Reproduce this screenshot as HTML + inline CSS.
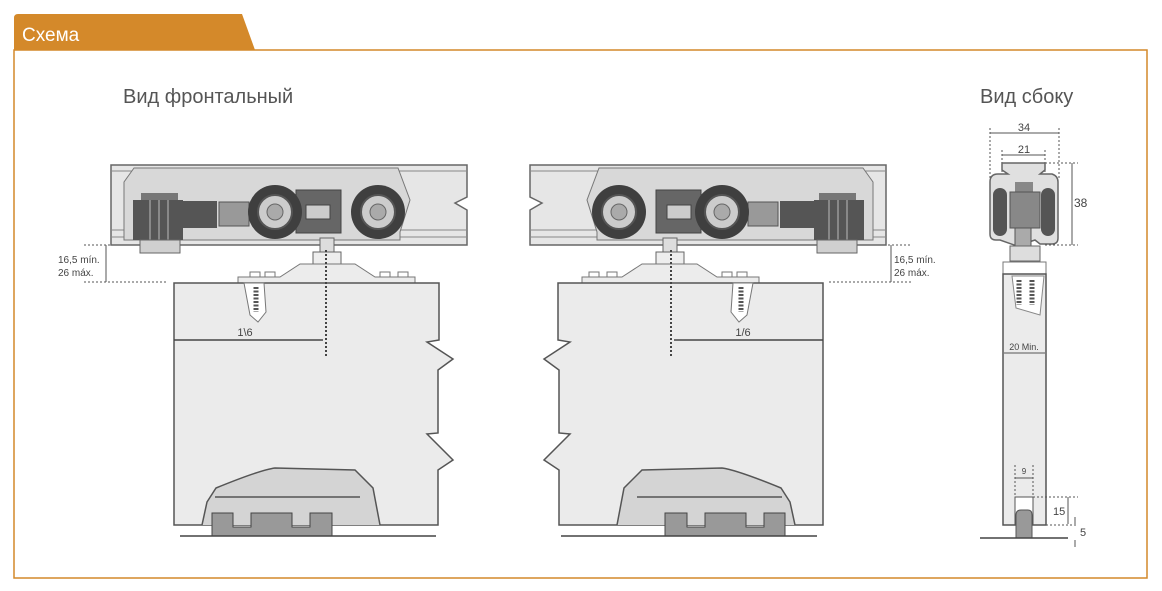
<!DOCTYPE html>
<html><head><meta charset="utf-8"><style>
html,body{margin:0;padding:0;background:#fff;width:1162px;height:591px;overflow:hidden}
svg{display:block}
text{font-family:"Liberation Sans",sans-serif}
</style></head><body>
<svg width="1162" height="591" viewBox="0 0 1162 591" xmlns="http://www.w3.org/2000/svg">
<defs>
<g id="front">
  <!-- rail -->
  <path d="M111,165 H467 V197 L455,203 L467,210 V245 H111 Z" fill="#e6e6e6" stroke="#666" stroke-width="1.5"/>
  <line x1="111" y1="171" x2="467" y2="171" stroke="#888"/>
  <line x1="111" y1="230" x2="467" y2="230" stroke="#888"/>
  <line x1="111" y1="237" x2="467" y2="237" stroke="#888"/>
  <path d="M134,168 L124,182 V240 L400,240 V232 L410,200 L398,168 Z" fill="#d8d8d8" stroke="#777"/>
  <rect x="141" y="193" width="37" height="10" fill="#777"/>
  <rect x="133" y="200" width="50" height="40" fill="#555"/>
  <line x1="150" y1="200" x2="150" y2="240" stroke="#888" stroke-width="2"/>
  <line x1="159" y1="200" x2="159" y2="240" stroke="#888" stroke-width="2"/>
  <line x1="168" y1="200" x2="168" y2="240" stroke="#888" stroke-width="2"/>
  <rect x="183" y="201" width="34" height="27" fill="#555"/>
  <rect x="219" y="202" width="30" height="24" fill="#999" stroke="#555"/>
  <rect x="296" y="190" width="45" height="43" fill="#666" stroke="#444"/>
  <rect x="306" y="205" width="24" height="14" fill="#ccc" stroke="#444"/>
  <circle cx="275" cy="212" r="27" fill="#3f3f3f"/>
  <circle cx="275" cy="212" r="17" fill="#ccc" stroke="#555" stroke-width="2"/>
  <circle cx="275" cy="212" r="8" fill="#aaa" stroke="#666"/>
  <circle cx="378" cy="212" r="27" fill="#3f3f3f"/>
  <circle cx="378" cy="212" r="17" fill="#ccc" stroke="#555" stroke-width="2"/>
  <circle cx="378" cy="212" r="8" fill="#aaa" stroke="#666"/>
  <rect x="140" y="240" width="40" height="13" fill="#d0d0d0" stroke="#666"/>
  <!-- stem and nuts -->
  <rect x="320" y="238" width="14" height="14" fill="#ddd" stroke="#666"/>
  <rect x="313" y="252" width="28" height="15" fill="#eee" stroke="#666"/>
  <rect x="313" y="268" width="28" height="14" fill="#eee" stroke="#666"/>
  <path d="M238,277 H280 L300,264 H355 L375,277 H415 V283 H238 Z" fill="#ececec" stroke="#777"/>
  <path d="M250,277 v-5 h10 v5 M265,277 v-5 h10 v5 M380,277 v-5 h10 v5 M398,277 v-5 h10 v5" fill="none" stroke="#777"/>
  <!-- door -->
  <path d="M174,283 H439 V340 L427,342 L453,359 L438,370 V433 L427,434 L453,460 L438,470 V525 H174 Z" fill="#ebebeb" stroke="#555" stroke-width="1.5"/>
  <path d="M244,283 L250,315 L258,322 L266,312 L264,283 Z" fill="#fff" stroke="#777"/>
  <line x1="256" y1="287" x2="256" y2="312" stroke="#555" stroke-width="5" stroke-dasharray="2,1.5"/>
  <line x1="174" y1="340" x2="323" y2="340" stroke="#444" stroke-width="1.5"/>
  <line x1="326" y1="250" x2="326" y2="356" stroke="#444" stroke-width="2" stroke-dasharray="2,2"/>
  <!-- floor guide -->
  <path d="M202,525 L207,502 L216,488 Q260,470 275,468 L355,470 L373,488 L380,525" fill="#d4d4d4" stroke="#555" stroke-width="1.5"/>
  <line x1="215" y1="497" x2="360" y2="497" stroke="#555" stroke-width="1.5"/>
  <path d="M212,536 V513 H233 V527 H251 V513 H292 V527 H310 V513 H332 V536 Z" fill="#999" stroke="#444"/>
  <line x1="180" y1="536" x2="436" y2="536" stroke="#444" stroke-width="1.5"/>
</g>
</defs>
<!-- frame -->
<path d="M14,50 H1147 V578 H14 Z" fill="none" stroke="#d4892a" stroke-width="1.5"/>
<path d="M14,50 V18 Q14,14 18,14 H242 L255,50 Z" fill="#d4892a"/>
<text x="22" y="41" font-size="19" fill="#fff">Схема</text>
<text x="123" y="103" font-size="20" fill="#555">Вид фронтальный</text>
<text x="980" y="103" font-size="20" fill="#555">Вид сбоку</text>

<use href="#front"/>
<use href="#front" transform="translate(997,0) scale(-1,1)"/>
<text x="240" y="336" font-size="11" fill="#444" transform="translate(490,0) scale(-1,1)" text-anchor="middle" style="transform-box:fill-box"> </text>
<text x="245" y="336" font-size="11" fill="#444" text-anchor="middle">1\6</text>
<text x="743" y="336" font-size="11" fill="#444" text-anchor="middle">1/6</text>

<!-- left dims -->
<line x1="84" y1="245" x2="110" y2="245" stroke="#555" stroke-dasharray="2,2"/>
<line x1="84" y1="282" x2="168" y2="282" stroke="#555" stroke-dasharray="2,2"/>
<line x1="106" y1="245" x2="106" y2="282" stroke="#555"/>
<text x="58" y="263" font-size="10" fill="#444">16,5 mín.</text>
<text x="58" y="276" font-size="10" fill="#444">26 máx.</text>
<line x1="888" y1="245" x2="912" y2="245" stroke="#555" stroke-dasharray="2,2"/>
<line x1="829" y1="282" x2="912" y2="282" stroke="#555" stroke-dasharray="2,2"/>
<line x1="891" y1="245" x2="891" y2="282" stroke="#555"/>
<text x="894" y="263" font-size="10" fill="#444">16,5 mín.</text>
<text x="894" y="276" font-size="10" fill="#444">26 máx.</text>

<!-- side view -->
<g stroke="#555" fill="none">
  <line x1="990" y1="133" x2="1059" y2="133"/>
  <line x1="990" y1="128" x2="990" y2="180" stroke-dasharray="2,2"/>
  <line x1="1059" y1="128" x2="1059" y2="180" stroke-dasharray="2,2"/>
  <line x1="1002" y1="155" x2="1045" y2="155"/>
  <line x1="1002" y1="150" x2="1002" y2="180" stroke-dasharray="2,2"/>
  <line x1="1045" y1="150" x2="1045" y2="180" stroke-dasharray="2,2"/>
  <line x1="1045" y1="163" x2="1078" y2="163" stroke-dasharray="2,2"/>
  <line x1="1045" y1="245" x2="1078" y2="245" stroke-dasharray="2,2"/>
  <line x1="1072" y1="163" x2="1072" y2="245"/>
</g>
<text x="1024" y="131" font-size="11" fill="#444" text-anchor="middle">34</text>
<text x="1024" y="153" font-size="11" fill="#444" text-anchor="middle">21</text>
<text x="1074" y="207" font-size="12" fill="#444">38</text>
<path d="M1002,163 H1045 V170 L1040,174 H1052 Q1058,176 1058,182 V238 Q1058,244 1052,244 H1040 L1035,240 L1017,246 L1000,240 H996 Q990,240 990,234 V182 Q990,174 998,174 H1008 L1002,170 Z" fill="#e0e0e0" stroke="#666" stroke-width="1.5"/>
<rect x="993" y="188" width="14" height="48" rx="7" fill="#555"/>
<rect x="1041" y="188" width="14" height="48" rx="7" fill="#555"/>
<rect x="1015" y="182" width="18" height="10" fill="#888"/>
<rect x="1010" y="192" width="30" height="36" fill="#888" stroke="#555"/>
<rect x="1015" y="228" width="16" height="18" fill="#aaa" stroke="#555"/>
<rect x="1010" y="246" width="30" height="15" fill="#ddd" stroke="#666"/>
<rect x="1003" y="262" width="43" height="12" fill="#fff" stroke="#777"/>
<path d="M1003,274 H1046 V525 H1003 Z" fill="#ebebeb" stroke="#555" stroke-width="1.5"/>
<path d="M1012,276 L1016,308 L1040,315 L1044,276 Z" fill="#fff" stroke="#888"/>
<line x1="1019" y1="280" x2="1019" y2="305" stroke="#555" stroke-width="5" stroke-dasharray="2,1.5"/>
<line x1="1032" y1="280" x2="1032" y2="305" stroke="#555" stroke-width="5" stroke-dasharray="2,1.5"/>
<line x1="1004" y1="353" x2="1045" y2="353" stroke="#555"/>
<text x="1024" y="350" font-size="9" fill="#444" text-anchor="middle">20 Min.</text>
<line x1="1015" y1="465" x2="1015" y2="497" stroke="#555" stroke-dasharray="2,2"/>
<line x1="1033" y1="465" x2="1033" y2="497" stroke="#555" stroke-dasharray="2,2"/>
<line x1="1015" y1="478" x2="1033" y2="478" stroke="#555"/>
<text x="1024" y="474" font-size="8" fill="#444" text-anchor="middle">9</text>
<rect x="1015" y="497" width="18" height="28" fill="#fff" stroke="#555"/>
<path d="M1016,538 V515 Q1016,510 1021,510 H1028 Q1032,510 1032,515 V538 Z" fill="#999" stroke="#555"/>
<line x1="980" y1="538" x2="1068" y2="538" stroke="#444" stroke-width="1.5"/>
<line x1="1033" y1="497" x2="1078" y2="497" stroke="#555" stroke-dasharray="2,2"/>
<line x1="1046" y1="525" x2="1078" y2="525" stroke="#555" stroke-dasharray="2,2"/>
<line x1="1068" y1="497" x2="1068" y2="524" stroke="#555"/>
<line x1="1075" y1="517" x2="1075" y2="524" stroke="#555"/>
<line x1="1075" y1="540" x2="1075" y2="547" stroke="#555"/>
<text x="1053" y="515" font-size="11" fill="#444">15</text>
<text x="1080" y="536" font-size="11" fill="#444">5</text>
</svg>
</body></html>
